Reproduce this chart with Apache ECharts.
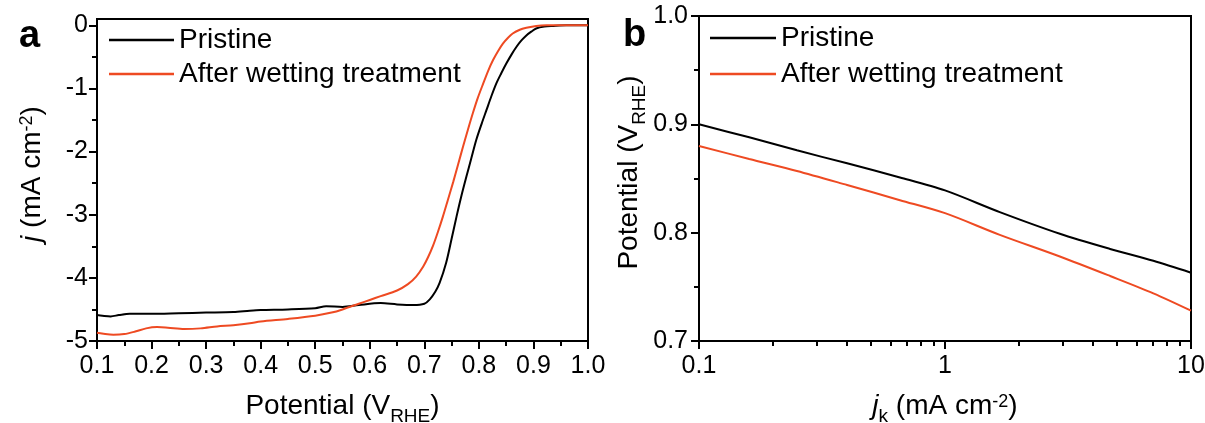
<!DOCTYPE html>
<html><head><meta charset="utf-8">
<script src="https://cdn.jsdelivr.net/npm/echarts@6/dist/echarts.min.js"></script>
<style>html,body{margin:0;padding:0;background:#fff}#c{width:1205px;height:423px}</style>
</head><body><div id="c"></div>
<script>
const seriesNames = ['Pristine', 'After wetting treatment'];
// Panel a: LSV curves [potential V_RHE, j mA cm-2]
const lsvPristine = [
 [0.100,-4.59],[0.110,-4.60],[0.125,-4.61],[0.140,-4.59],[0.160,-4.57],[0.200,-4.57],
 [0.250,-4.56],[0.300,-4.55],[0.350,-4.54],[0.380,-4.52],[0.400,-4.51],[0.450,-4.50],
 [0.500,-4.48],[0.520,-4.45],[0.550,-4.46],[0.580,-4.43],[0.620,-4.40],[0.650,-4.42],
 [0.680,-4.43],[0.700,-4.41],[0.710,-4.34],[0.720,-4.22],[0.728,-4.08],[0.740,-3.76],
 [0.750,-3.38],[0.759,-3.03],[0.768,-2.70],[0.777,-2.40],[0.786,-2.11],[0.795,-1.82],
 [0.805,-1.56],[0.814,-1.34],[0.823,-1.12],[0.832,-0.92],[0.841,-0.76],[0.850,-0.61],
 [0.860,-0.46],[0.869,-0.34],[0.878,-0.24],[0.887,-0.16],[0.896,-0.10],[0.905,-0.05],
 [0.920,-0.02],[0.936,-0.01],[0.960,0.00],[0.980,0.00],[1.000,0.00]
];
const lsvWetted = [
 [0.100,-4.87],[0.115,-4.89],[0.130,-4.90],[0.150,-4.89],[0.170,-4.85],[0.190,-4.80],
 [0.210,-4.78],[0.230,-4.79],[0.260,-4.81],[0.290,-4.80],[0.320,-4.77],[0.350,-4.75],
 [0.380,-4.72],[0.400,-4.69],[0.450,-4.65],[0.500,-4.60],[0.530,-4.55],[0.550,-4.50],
 [0.580,-4.41],[0.600,-4.35],[0.620,-4.29],[0.650,-4.20],[0.670,-4.10],[0.685,-3.98],
 [0.698,-3.82],[0.707,-3.67],[0.716,-3.49],[0.725,-3.27],[0.734,-3.03],[0.743,-2.77],
 [0.753,-2.48],[0.762,-2.20],[0.771,-1.92],[0.780,-1.65],[0.789,-1.39],[0.798,-1.15],
 [0.808,-0.92],[0.817,-0.72],[0.826,-0.55],[0.835,-0.41],[0.844,-0.29],[0.853,-0.20],
 [0.862,-0.13],[0.875,-0.07],[0.887,-0.04],[0.905,-0.01],[0.924,0.00],[0.960,0.00],[1.000,0.00]
];
// Panel b: [jk mA cm-2, potential V_RHE]
const tafelPristine = [
 [0.1,0.900],[0.16,0.888],[0.25,0.876],[0.4,0.864],[0.656,0.851],[1,0.839],
 [1.67,0.819],[2.93,0.799],[4.69,0.785],[7.03,0.774],[10,0.763]
];
const tafelWetted = [
 [0.1,0.880],[0.16,0.868],[0.25,0.857],[0.4,0.844],[0.656,0.830],[1,0.818],
 [1.67,0.798],[2.93,0.778],[4.69,0.760],[7.03,0.744],[10,0.728]
];
// ticks
const ticksAx = [0.1,0.2,0.3,0.4,0.5,0.6,0.7,0.8,0.9,1.0];
const minorAx = [0.15,0.25,0.35,0.45,0.55,0.65,0.75,0.85,0.95];
const ticksAy = [-5,-4,-3,-2,-1,0];
const minorAy = [-4.5,-3.5,-2.5,-1.5,-0.5];
const ticksBx = [0.1,1,10];
const minorBx = [0.2,0.3,0.4,0.5,0.6,0.7,0.8,0.9,2,3,4,5,6,7,8,9];
const ticksBy = [0.7,0.8,0.9,1.0];
const minorBy = [0.75,0.85,0.95];

const FF = 'Arial, "Liberation Sans", sans-serif';
const RED = '#EE4A22';
const rich = {
  n: {fontSize: 28, fontFamily: FF, color: '#000', verticalAlign: 'middle', lineHeight: 30},
  i: {fontSize: 28, fontFamily: FF, color: '#000', fontStyle: 'italic', verticalAlign: 'middle', lineHeight: 30},
  sub: {fontSize: 19, fontFamily: FF, color: '#000', verticalAlign: 'middle', padding: [20,0,0,0]},
  sup: {fontSize: 18, fontFamily: FF, color: '#000', verticalAlign: 'middle', padding: [0,0,9,0]}
};

function mainAxis(grid, type, min, max, ticks, fmt, name, gap, pos, margin, extra) {
  return Object.assign({
    type: type, gridIndex: grid, min: min, max: max, position: pos,
    axisLine: {show: true, onZero: false, lineStyle: {color: '#000', width: 2}},
    axisTick: {show: true, inside: false, length: 8, customValues: ticks, lineStyle: {color: '#000', width: 2}},
    axisLabel: {show: true, customValues: ticks, formatter: fmt, color: '#000', fontSize: 25, fontFamily: FF, margin: margin},
    splitLine: {show: false}, minorTick: {show: false},
    name: name, nameLocation: 'middle', nameGap: gap,
    nameTextStyle: {rich: rich, color: '#000'}
  }, extra || {});
}
function minorAxis(grid, type, min, max, ticks, pos) {
  return {
    type: type, gridIndex: grid, min: min, max: max, position: pos,
    axisLine: {show: false, onZero: false},
    axisTick: {show: true, inside: false, length: 5, customValues: ticks, lineStyle: {color: '#000', width: 2}},
    axisLabel: {show: false}, splitLine: {show: false}
  };
}

const option = {
  animation: false,
  backgroundColor: '#fff',
  grid: [
    {left: 97, top: 19, width: 491, height: 322, show: true, borderColor: '#000', borderWidth: 2, containLabel: false, outerBoundsMode: 'none'},
    {left: 699, top: 16, width: 492, height: 325, show: true, borderColor: '#000', borderWidth: 2, containLabel: false, outerBoundsMode: 'none'}
  ],
  xAxis: [
    mainAxis(0, 'value', 0.1, 1.0, ticksAx, v => v.toFixed(1), '{n|Potential (V}{sub|RHE}{n|)}', 46, 'bottom', 13),
    minorAxis(0, 'value', 0.1, 1.0, minorAx, 'bottom'),
    mainAxis(1, 'log', 0.1, 10, ticksBx, v => String(v), '{i|j}{sub|k}{n| (mA cm}{sup|-2}{n|)}', 46, 'bottom', 13, {logBase: 10}),
    minorAxis(1, 'log', 0.1, 10, minorBx, 'bottom')
  ],
  yAxis: [
    mainAxis(0, 'value', -5, 0.1, ticksAy, v => String(v), '{i|j}{n| (mA cm}{sup|-2}{n|)}', 50, 'left', 9,
      {nameRotate: 90, nameTextStyle: {rich: rich, color: '#000', padding: [0,0,0,12]}}),
    minorAxis(0, 'value', -5, 0.1, minorAy, 'left'),
    mainAxis(1, 'value', 0.7, 1.0, ticksBy, v => v.toFixed(1), '{n|Potential (V}{sub|RHE}{n|)}', 50, 'left', 11,
      {nameRotate: 90, nameTextStyle: {rich: rich, color: '#000', padding: [0,0,0,12]}}),
    minorAxis(1, 'value', 0.7, 1.0, minorBy, 'left')
  ],
  legend: [
    {data: seriesNames, orient: 'vertical', left: 104, top: 21, itemWidth: 65, itemHeight: 2.5, itemGap: 6, icon: 'rect',
     textStyle: {fontSize: 28, fontFamily: FF, color: '#000'}, selectedMode: false},
    {data: seriesNames, orient: 'vertical', left: 705, top: 19, itemWidth: 66, itemHeight: 2.5, itemGap: 8, icon: 'rect',
     textStyle: {fontSize: 28, fontFamily: FF, color: '#000'}, selectedMode: false}
  ],
  graphic: [
    {type: 'text', x: 19, y: 37, style: {text: 'a', fontSize: 38, fontWeight: 'bold', fontFamily: FF, fill: '#000', verticalAlign: 'middle', align: 'left'}},
    {type: 'text', x: 623, y: 36, style: {text: 'b', fontSize: 38, fontWeight: 'bold', fontFamily: FF, fill: '#000', verticalAlign: 'middle', align: 'left'}}
  ],
  series: [
    {type: 'line', name: seriesNames[0], xAxisIndex: 0, yAxisIndex: 0, data: lsvPristine, showSymbol: false, symbol: 'none',
     smooth: 0.3, color: '#000', lineStyle: {color: '#000', width: 2}},
    {type: 'line', name: seriesNames[1], xAxisIndex: 0, yAxisIndex: 0, data: lsvWetted, showSymbol: false, symbol: 'none',
     smooth: 0.3, color: RED, lineStyle: {color: RED, width: 2}},
    {type: 'line', name: seriesNames[0], xAxisIndex: 2, yAxisIndex: 2, data: tafelPristine, showSymbol: false, symbol: 'none',
     smooth: 0.3, color: '#000', lineStyle: {color: '#000', width: 2}},
    {type: 'line', name: seriesNames[1], xAxisIndex: 2, yAxisIndex: 2, data: tafelWetted, showSymbol: false, symbol: 'none',
     smooth: 0.3, color: RED, lineStyle: {color: RED, width: 2}}
  ]
};
const chart = echarts.init(document.getElementById('c'), null, {renderer: 'canvas'});
chart.setOption(option);
</script></body></html>
